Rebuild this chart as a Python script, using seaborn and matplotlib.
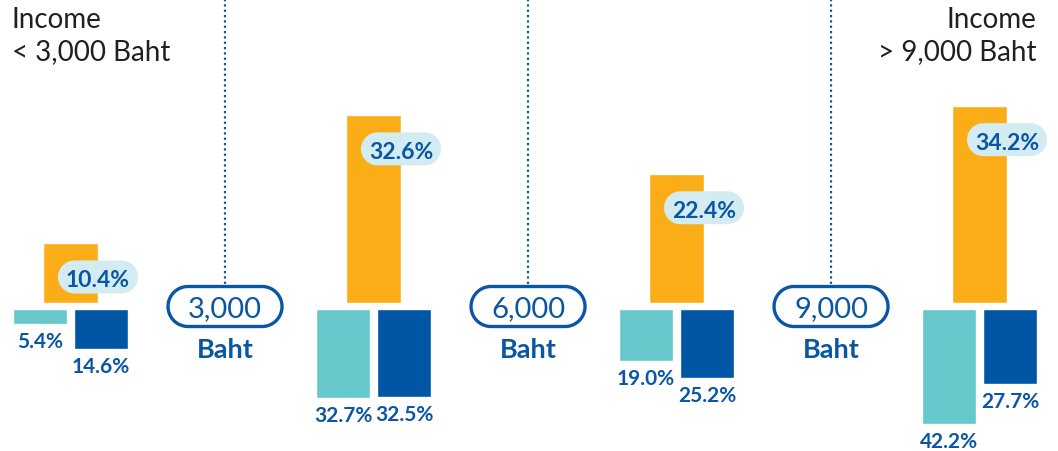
import numpy as np
import pandas as pd
import matplotlib
matplotlib.use("Agg")
import matplotlib.pyplot as plt
from matplotlib.patches import Polygon
import seaborn as sns

# data
groups = ["< 3,000", "3,000-6,000", "6,000-9,000", "> 9,000"]
orange_vals = [10.4, 32.6, 22.4, 34.2]
teal_vals = [5.4, 32.7, 19.0, 42.2]
blue_vals = [14.6, 32.5, 25.2, 27.7]
thresholds = ["3,000", "6,000", "9,000"]

ORANGE = "#FBAD18"
TEAL = "#67C8CB"
BLUE = "#0055A5"
TXT = "#0A56A4"
PILL = "#D3ECF2"
DARK = "#231F20"

sns.set_theme(style="white")
plt.rcParams["font.family"] = ["Lato", "DejaVu Sans"]

W, H = 1058, 452
fig = plt.figure(figsize=(W / 100, H / 100), dpi=100)

# x scale: group i centre sits at 70.5 + 303*i pixels
x0, step = 70.5, 303.0
xlim = (-x0 / step, (W - x0) / step)

# top axes: orange bars rising from y=304px
ax_top = fig.add_axes([0, (H - 304) / H, 1, 304 / H])
top_df = pd.DataFrame({"group": groups, "value": orange_vals})
sns.barplot(data=top_df, x="group", y="value", color=ORANGE, saturation=1,
            width=55 / step, ax=ax_top, order=groups)
ax_top.set_xlim(*xlim)
ax_top.set_ylim(0, 304 / 5.77)

# bottom axes: teal and blue bars hanging down from y=310px
ax_bot = fig.add_axes([0, 0, 1, (H - 310) / H])
bot_df = pd.DataFrame({
    "group": groups * 2,
    "series": ["teal"] * 4 + ["blue"] * 4,
    "value": teal_vals + blue_vals,
})
dodge_w = 122 / step
sns.barplot(data=bot_df, x="group", y="value", hue="series", order=groups,
            hue_order=["teal", "blue"], palette=[TEAL, BLUE], saturation=1,
            width=dodge_w, gap=0.1, legend=False, ax=ax_bot)
ax_bot.set_xlim(*xlim)
ax_bot.set_ylim((H - 310) / 2.72, 0)

for ax in (ax_top, ax_bot):
    ax.axis("off")

# overlay in pixel units (y down from top) for pills, dividers, titles
ax_ann = fig.add_axes([0, 0, 1, 1])
ax_ann.set_xlim(0, W)
ax_ann.set_ylim(H, 0)
ax_ann.axis("off")


def pill(cx, cy, w, h, **kw):
    # stadium shape with true semicircle ends
    r = h / 2
    t = np.linspace(-np.pi / 2, np.pi / 2, 40)
    right = np.column_stack([cx + w / 2 - r + r * np.cos(t), cy + r * np.sin(t)])
    left = np.column_stack([cx - w / 2 + r - r * np.cos(t), cy - r * np.sin(t)])
    ax_ann.add_patch(Polygon(np.vstack([right, left]), closed=True, **kw))


def to_px(ax, x, y):
    dx, dy = ax.transData.transform((x, y))
    return dx, H - dy


# orange labels in light pills, hanging at the bar's right edge
half = 55 / step / 2
for i, v in enumerate(orange_vals):
    px, py = to_px(ax_top, i + half, v)
    pill(px, py + 34, 80, 33, fc=PILL, ec="none")
    ax_ann.text(px, py + 43, f"{v:.1f}%", ha="center", va="baseline",
                fontsize=16.5, fontweight="bold", color=TXT)

off = dodge_w / 4
for i, (t, b) in enumerate(zip(teal_vals, blue_vals)):
    ax_bot.annotate(f"{t:.1f}%", (i - off, t), xytext=(0, -23 * 0.72),
                    textcoords="offset points", ha="center", va="baseline",
                    fontsize=15, fontweight="bold", color=TXT)
    ax_bot.annotate(f"{b:.1f}%", (i + off, b), xytext=(0, -23 * 0.72),
                    textcoords="offset points", ha="center", va="baseline",
                    fontsize=15, fontweight="bold", color=TXT)

for i, lab in enumerate(thresholds):
    xd = x0 + step * (i + 0.51)
    ax_ann.plot([xd, xd], [0, 287], color=TXT, lw=1.6, ls=(0, (1, 1.4)))
    pill(xd, 307.5, 114, 40, fc="white", ec=TXT, lw=2.4)
    ax_ann.text(xd, 317, lab, ha="center", va="baseline",
                fontsize=21, color=TXT)
    ax_ann.text(xd, 358, "Baht", ha="center", va="baseline", fontsize=19.5,
                fontweight="bold", color=TXT)

ax_ann.text(12, 28, "Income", ha="left", va="baseline", fontsize=20, color=DARK)
ax_ann.text(12, 60, "< 3,000 Baht", ha="left", va="baseline", fontsize=20,
            color=DARK)
ax_ann.text(1036, 28, "Income", ha="right", va="baseline", fontsize=20,
            color=DARK)
ax_ann.text(1036, 60, "> 9,000 Baht", ha="right", va="baseline", fontsize=20,
            color=DARK)

fig.savefig("out.png", dpi=100, facecolor="white")
